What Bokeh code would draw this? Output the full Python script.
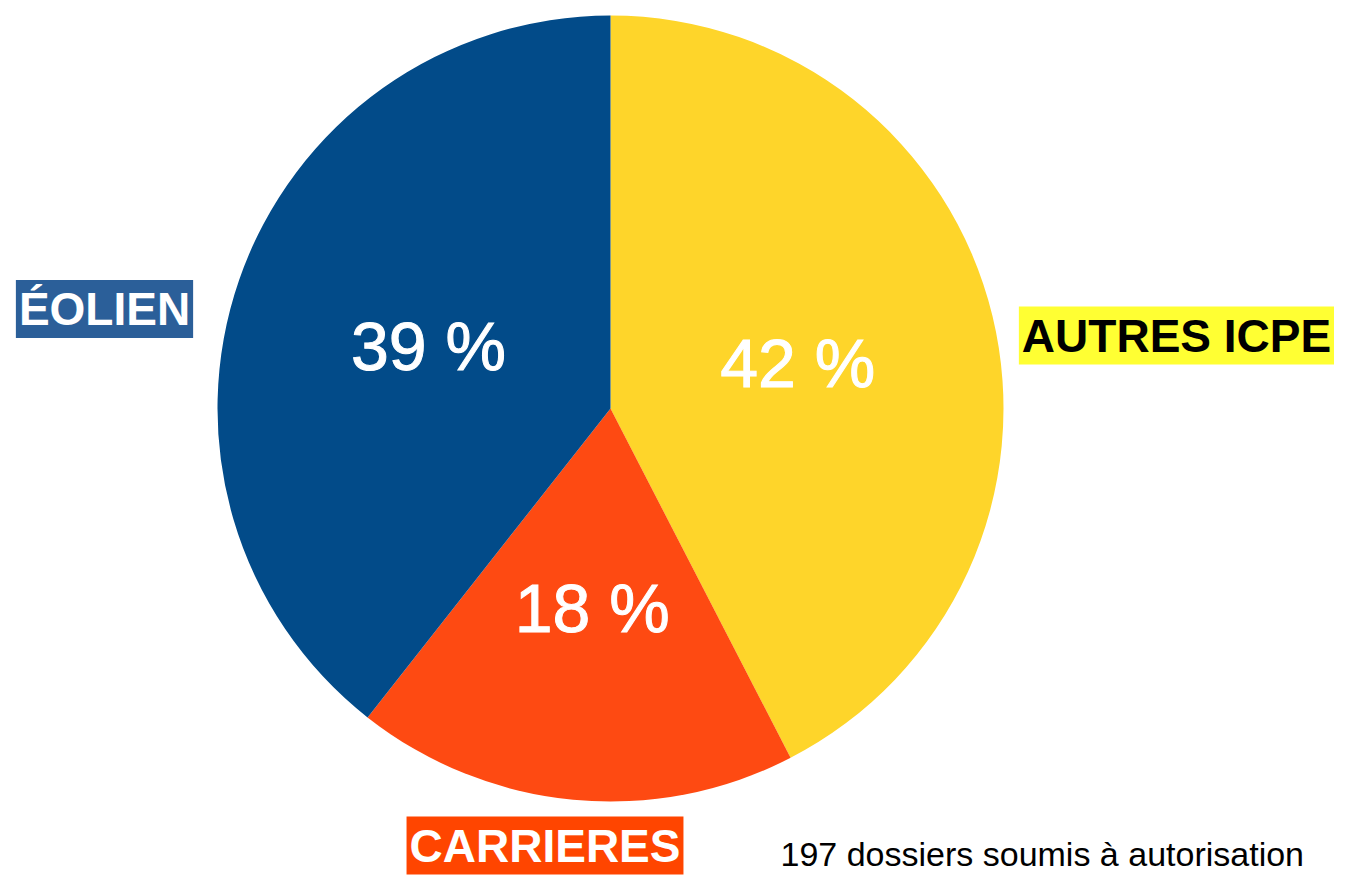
import math
from bokeh.plotting import figure
from bokeh.models import Range1d, Label, ColumnDataSource
from bokeh.core.properties import value
from bokeh.embed import file_html
from bokeh.resources import INLINE

# ---- data ----
categories = ["AUTRES ICPE", "CARRIERES", "ÉOLIEN"]
percents = [42, 18, 39]
slice_colors = ["#FED52A", "#FE4A12", "#024B89"]
pct_labels = ["42 %", "18 %", "39 %"]
label_bg = ["#FFFF33", "#FF4500", "#2B5F99"]
label_fg = ["black", "white", "white"]
footer = "197 dossiers soumis à autorisation"

W, H = 1334, 875


def X(sx):
    return sx


def Y(sy):
    return H - sy


p = figure(width=W, height=H, output_backend="svg", toolbar_location=None,
           x_range=Range1d(0, W), y_range=Range1d(0, H), min_border=0,
           background_fill_color="white", border_fill_color="white")
p.axis.visible = False
p.grid.visible = False
p.outline_line_color = None
p.title.visible = False

cx, cy, r = X(610), Y(408), 393
total = sum(percents)
starts, ends, mids = [], [], []
acc = 0.0
for v in percents:
    a0 = math.pi / 2 - 2 * math.pi * acc / total
    acc += v
    a1 = math.pi / 2 - 2 * math.pi * acc / total
    starts.append(a0)
    ends.append(a1)
    mids.append((a0 + a1) / 2)

src = ColumnDataSource(dict(start=starts, end=ends, color=slice_colors))
p.wedge(x=cx, y=cy, radius=r, radius_units="screen", start_angle="start",
        end_angle="end", direction="clock", fill_color="color",
        line_color=None, source=src)

lr = 0.49 * r
tx = [cx + lr * math.cos(a) for a in mids]
ty = [cy + lr * math.sin(a) for a in mids]
ty[1] -= 8
p.text(x=tx, y=ty, text=pct_labels, text_color="white",
       text_font=value("Liberation Sans"), text_font_size="68px",
       text_align="center", text_baseline="middle",
       text_outline_color="white")

# category labels with coloured boxes
label_pos = {"ÉOLIEN": (104, 308.5, "46px"),
             "AUTRES ICPE": (1176, 335, "46px"),
             "CARRIERES": (544.5, 845, "46px")}
for cat, bg, fg in zip(categories, label_bg, label_fg):
    sx, sy, fs = label_pos[cat]
    p.add_layout(Label(x=X(sx), y=Y(sy), text=cat, text_color=fg,
                       text_font="Liberation Sans", text_font_style="bold",
                       text_font_size=fs, text_align="center",
                       text_baseline="middle", background_fill_color=bg,
                       padding=3))

p.add_layout(Label(x=X(780), y=Y(872), text=footer, text_color="black",
                   text_font="Liberation Sans", text_font_size="34px",
                   text_align="left", text_baseline="bottom"))

open("out.html", "w").write(file_html(p, INLINE))
